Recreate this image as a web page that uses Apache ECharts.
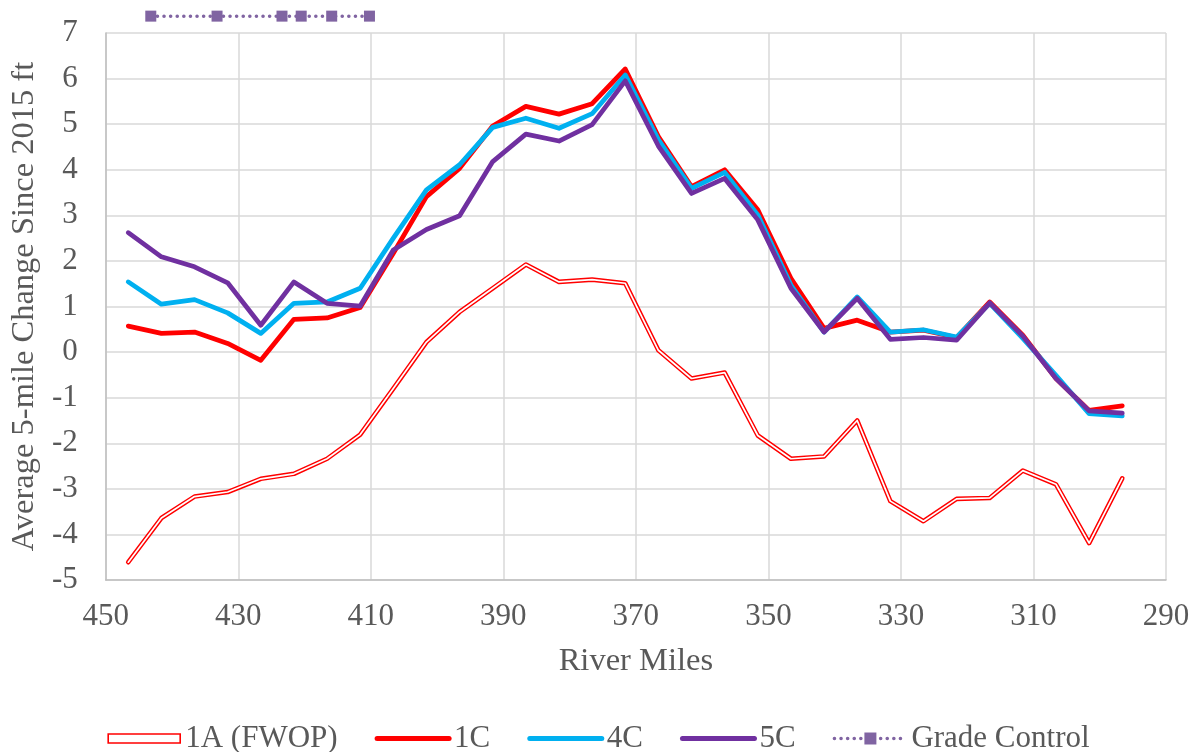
<!DOCTYPE html>
<html>
<head>
<meta charset="utf-8">
<script src="https://cdn.jsdelivr.net/npm/echarts@6/dist/echarts.min.js"></script>
<style>
html,body{margin:0;padding:0;background:#fff;}
#chart{width:1197px;height:752px;}
</style>
</head>
<body>
<div id="chart"></div>
<script>
// River miles (x positions of the 5-mile averages)
const riverMiles = [446.6, 441.6, 436.6, 431.6, 426.6, 421.6, 416.6, 411.6, 406.6, 401.6,
  396.6, 391.6, 386.6, 381.6, 376.6, 371.6, 366.6, 361.6, 356.6, 351.6,
  346.6, 341.6, 336.6, 331.6, 326.6, 321.6, 316.6, 311.6, 306.6, 301.6, 296.6];

const s1A = [-4.61, -3.64, -3.17, -3.07, -2.78, -2.67, -2.34, -1.81, -0.80, 0.22,
  0.88, 1.40, 1.92, 1.54, 1.59, 1.51, 0.04, -0.58, -0.45, -1.83,
  -2.34, -2.29, -1.50, -3.27, -3.71, -3.22, -3.20, -2.60, -2.90, -4.19, -2.77];

const s1C = [0.57, 0.41, 0.44, 0.19, -0.18, 0.72, 0.75, 0.98, 2.17, 3.41,
  4.03, 4.96, 5.39, 5.22, 5.45, 6.21, 4.73, 3.63, 4.00, 3.12,
  1.62, 0.52, 0.70, 0.44, 0.48, 0.32, 1.10, 0.37, -0.58, -1.28, -1.18];

const s4C = [1.54, 1.05, 1.15, 0.86, 0.41, 1.07, 1.10, 1.40, 2.50, 3.56,
  4.11, 4.93, 5.13, 4.91, 5.23, 6.08, 4.66, 3.59, 3.94, 3.01,
  1.47, 0.44, 1.21, 0.44, 0.49, 0.33, 1.07, 0.30, -0.51, -1.35, -1.40];

const s5C = [2.62, 2.09, 1.87, 1.52, 0.59, 1.54, 1.07, 1.01, 2.24, 2.69,
  2.99, 4.18, 4.78, 4.63, 4.99, 5.95, 4.52, 3.48, 3.81, 2.90,
  1.40, 0.44, 1.18, 0.28, 0.32, 0.26, 1.08, 0.35, -0.58, -1.29, -1.34];

const gradeMiles = [443.2, 433.2, 423.4, 420.5, 415.9, 410.2];
const gradeValues = [7.37, 7.37, 7.37, 7.37, 7.37, 7.37];

const seriesNames = ['1A (FWOP)', '1C', '4C', '5C', 'Grade Control'];
const xTitle = 'River Miles';
const yTitle = 'Average 5-mile Change Since 2015 ft';

function pairs(xs, ys) { return xs.map((x, i) => [x, ys[i]]); }

const FONT = '"Liberation Serif", "Times New Roman", serif';
const TXT = '#595959';
const LW = 4.75;

const chart = echarts.init(document.getElementById('chart'), null, {renderer: 'canvas'});
chart.setOption({
  animation: false,
  backgroundColor: '#ffffff',
  textStyle: {fontFamily: FONT},
  grid: {left: 103, right: 31, top: 33, bottom: 172, containLabel: false},
  xAxis: {
    type: 'value', min: 290, max: 450, interval: 20, inverse: true,
    name: xTitle, nameLocation: 'middle', nameGap: 65,
    nameTextStyle: {fontFamily: FONT, fontSize: 32.5, color: TXT},
    axisLine: {show: true, onZero: false, lineStyle: {color: '#BFBFBF', width: 1.5}},
    axisTick: {show: false},
    axisLabel: {fontFamily: FONT, fontSize: 31, color: TXT, margin: 21},
    splitLine: {show: true, lineStyle: {color: '#D9D9D9', width: 1.5}}
  },
  yAxis: {
    type: 'value', min: -5, max: 7, interval: 1,
    name: yTitle, nameLocation: 'middle', nameGap: 60, nameRotate: 90,
    nameTextStyle: {fontFamily: FONT, fontSize: 32.5, color: TXT},
    axisLine: {show: true, onZero: false, lineStyle: {color: '#BFBFBF', width: 1.5}},
    axisTick: {show: false},
    axisLabel: {fontFamily: FONT, fontSize: 31, color: TXT, margin: 28},
    splitLine: {show: true, lineStyle: {color: '#D9D9D9', width: 1.5}}
  },
  legend: {
    left: 'center', top: 718,
    itemWidth: 72, itemHeight: 15, itemGap: 37,
    symbolKeepAspect: true,
    textStyle: {fontFamily: FONT, fontSize: 31, color: TXT},
    data: [
      {name: seriesNames[0], icon: 'path://M0 0H80V10H0Z',
       itemStyle: {color: '#ffffff', borderColor: '#FF0000', borderWidth: 1.6}},
      {name: seriesNames[1], itemStyle: {opacity: 0}, lineStyle: {width: 5, cap: 'round', color: '#FF0000'}},
      {name: seriesNames[2], itemStyle: {opacity: 0}, lineStyle: {width: 5, cap: 'round', color: '#00B0F0'}},
      {name: seriesNames[3], itemStyle: {opacity: 0}, lineStyle: {width: 5, cap: 'round', color: '#7030A0'}},
      {name: seriesNames[4], lineStyle: {width: 3.5, type: [0.1, 6.5], cap: 'round', color: '#8064A2'}}
    ]
  },
  series: [
    {
      name: seriesNames[0], type: 'line', data: pairs(riverMiles, s1A),
      symbol: 'none', z: 2,
      lineStyle: {color: '#FF0000', width: 4.6, join: 'round', cap: 'round'},
      itemStyle: {color: '#FF0000'}
    },
    {
      name: '1A inner', type: 'line', data: pairs(riverMiles, s1A),
      symbol: 'none', z: 3, silent: true,
      lineStyle: {color: '#FFFFFF', width: 1.7, join: 'round', cap: 'round'},
      itemStyle: {color: '#FFFFFF'}
    },
    {
      name: seriesNames[1], type: 'line', data: pairs(riverMiles, s1C),
      symbol: 'none', z: 4,
      lineStyle: {color: '#FF0000', width: LW, join: 'round', cap: 'round'},
      itemStyle: {color: '#FF0000'}
    },
    {
      name: seriesNames[2], type: 'line', data: pairs(riverMiles, s4C),
      symbol: 'none', z: 5,
      lineStyle: {color: '#00B0F0', width: LW, join: 'round', cap: 'round'},
      itemStyle: {color: '#00B0F0'}
    },
    {
      name: seriesNames[3], type: 'line', data: pairs(riverMiles, s5C),
      symbol: 'none', z: 6,
      lineStyle: {color: '#7030A0', width: LW, join: 'round', cap: 'round'},
      itemStyle: {color: '#7030A0'}
    },
    {
      name: seriesNames[4], type: 'line', data: pairs(gradeMiles, gradeValues),
      symbol: 'rect', symbolSize: 11, showSymbol: true, clip: false, z: 7,
      lineStyle: {color: '#8064A2', width: 3.5, type: [0.1, 6.5], cap: 'round'},
      itemStyle: {color: '#8064A2'}
    }
  ]
});
</script>
</body>
</html>
